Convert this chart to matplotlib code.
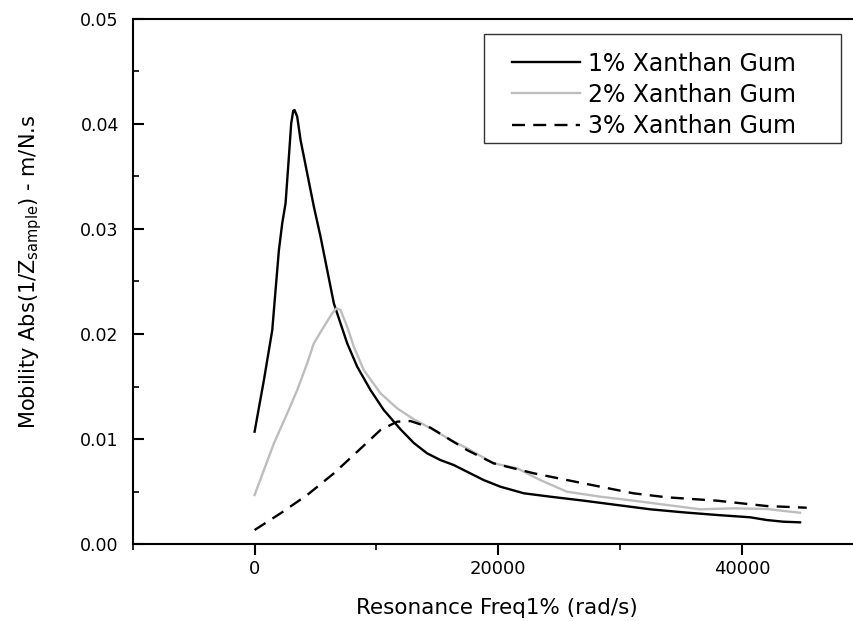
import numpy as np
import matplotlib.pyplot as plt
from matplotlib.ticker import MultipleLocator
from matplotlib.patches import Rectangle

plt.rcParams['font.family'] = ['DejaVu Sans']

# values
x1 = [0, 765, 1450, 1721, 1995, 2268, 2541, 2814, 3005, 3170, 3279, 3497,
      3771, 4316, 4863, 5410, 5957, 6503, 7049, 7597, 8418, 9508, 10600,
      11968, 13058, 14156, 15249, 16339, 17435, 18795, 20162, 22099, 24263,
      27002, 29730, 32460, 35190, 37927, 40657, 42026, 43386, 44756]
y1 = [0.01072, 0.01563, 0.02038, 0.02419, 0.02799, 0.03053, 0.03243, 0.03686,
      0.04004, 0.04123, 0.0413, 0.04066, 0.03845, 0.03528, 0.03211, 0.02926,
      0.02609, 0.02292, 0.02102, 0.01912, 0.0169, 0.01468, 0.01278, 0.01095,
      0.00965, 0.00866, 0.00802, 0.00755, 0.00691, 0.00612, 0.00549, 0.00486,
      0.00454, 0.00416, 0.00375, 0.00334, 0.00305, 0.0028, 0.00258, 0.00232,
      0.00216, 0.0021]

x2 = [0, 765, 1585, 2678, 3497, 4316, 4863, 5681, 6369, 6721, 7049, 7597,
      8140, 8958, 10328, 11697, 13058, 14697, 16066, 17435, 19615, 21558,
      23443, 25632, 28362, 31093, 33828, 36558, 39289, 42026, 44756]
y2 = [0.0047, 0.00707, 0.00961, 0.01246, 0.01468, 0.01722, 0.01912, 0.0207,
      0.02197, 0.02245, 0.02229, 0.0207, 0.0188, 0.01658, 0.01437, 0.01294,
      0.01190, 0.01088, 0.00993, 0.00914, 0.00771, 0.00723, 0.00612, 0.00501,
      0.00454, 0.00416, 0.00375, 0.00334, 0.00343, 0.00337, 0.00301]

x3 = [0, 2131, 4316, 6503, 8418, 10328, 11697, 12787, 14427, 17435, 19615,
      22918, 25632, 28362, 31093, 33828, 37927, 42026, 45302]
y3 = [0.00137, 0.00296, 0.0047, 0.00676, 0.00881, 0.01088, 0.01167, 0.01173,
      0.01110, 0.00897, 0.00771, 0.00676, 0.00612, 0.00549, 0.00486, 0.00448,
      0.00416, 0.00365, 0.00349]

labels = ['1% Xanthan Gum', '2% Xanthan Gum', '3% Xanthan Gum']

fig = plt.figure(figsize=(8.54, 6.21), dpi=100)
ax = fig.add_axes([0.1554, 0.1233, 0.8563, 0.8469])

ax.plot(x1, y1, color='black', lw=1.7, label=labels[0])
ax.plot(x2, y2, color='#bdbdbd', lw=1.7, label=labels[1])
ax.plot(x3, y3, color='black', lw=1.7, dashes=(5.5, 3.5), label=labels[2])

ax.set_xlim(-10000, 50000)
ax.set_ylim(0, 0.05)
ax.xaxis.set_major_locator(MultipleLocator(20000))
ax.xaxis.set_minor_locator(MultipleLocator(10000))
ax.yaxis.set_major_locator(MultipleLocator(0.01))
ax.yaxis.set_minor_locator(MultipleLocator(0.005))
ax.yaxis.set_major_formatter(plt.FormatStrFormatter('%.2f'))

for s in ax.spines.values():
    s.set_linewidth(1.5)
ax.tick_params(axis='x', which='major', direction='out', length=7.7, width=1.5, labelsize=13, pad=3.5)
ax.tick_params(axis='x', which='minor', direction='out', length=4.5, width=1.2)
ax.tick_params(axis='y', which='major', direction='in', length=8, width=1.5, labelsize=12.5, pad=10)
ax.tick_params(axis='y', which='minor', direction='in', length=4, width=1.2)

ax.set_xlabel('Resonance Freq1% (rad/s)', fontsize=15.5)
ax.xaxis.set_label_coords(0.4975, -0.102)
ax.set_ylabel(r'Mobility Abs(1/Z$_\mathregular{sample}$) - m/N.s', fontsize=15)
ax.yaxis.set_label_coords(-0.121, 0.518)

# legend box drawn separately so its frame matches the reference
ax.add_patch(Rectangle((0.4804, 0.7633), 0.4881, 0.2072, transform=ax.transAxes,
                       fill=True, facecolor='white', edgecolor='#333333',
                       lw=1.0, zorder=4))
leg = ax.legend(loc='upper left', bbox_to_anchor=(0.5187, 0.937), fontsize=17,
                frameon=False, handlelength=2.88, handletextpad=0.34,
                borderpad=0, borderaxespad=0, labelspacing=0.3)
leg.set_zorder(5)

fig.savefig('out.png', dpi=100)
